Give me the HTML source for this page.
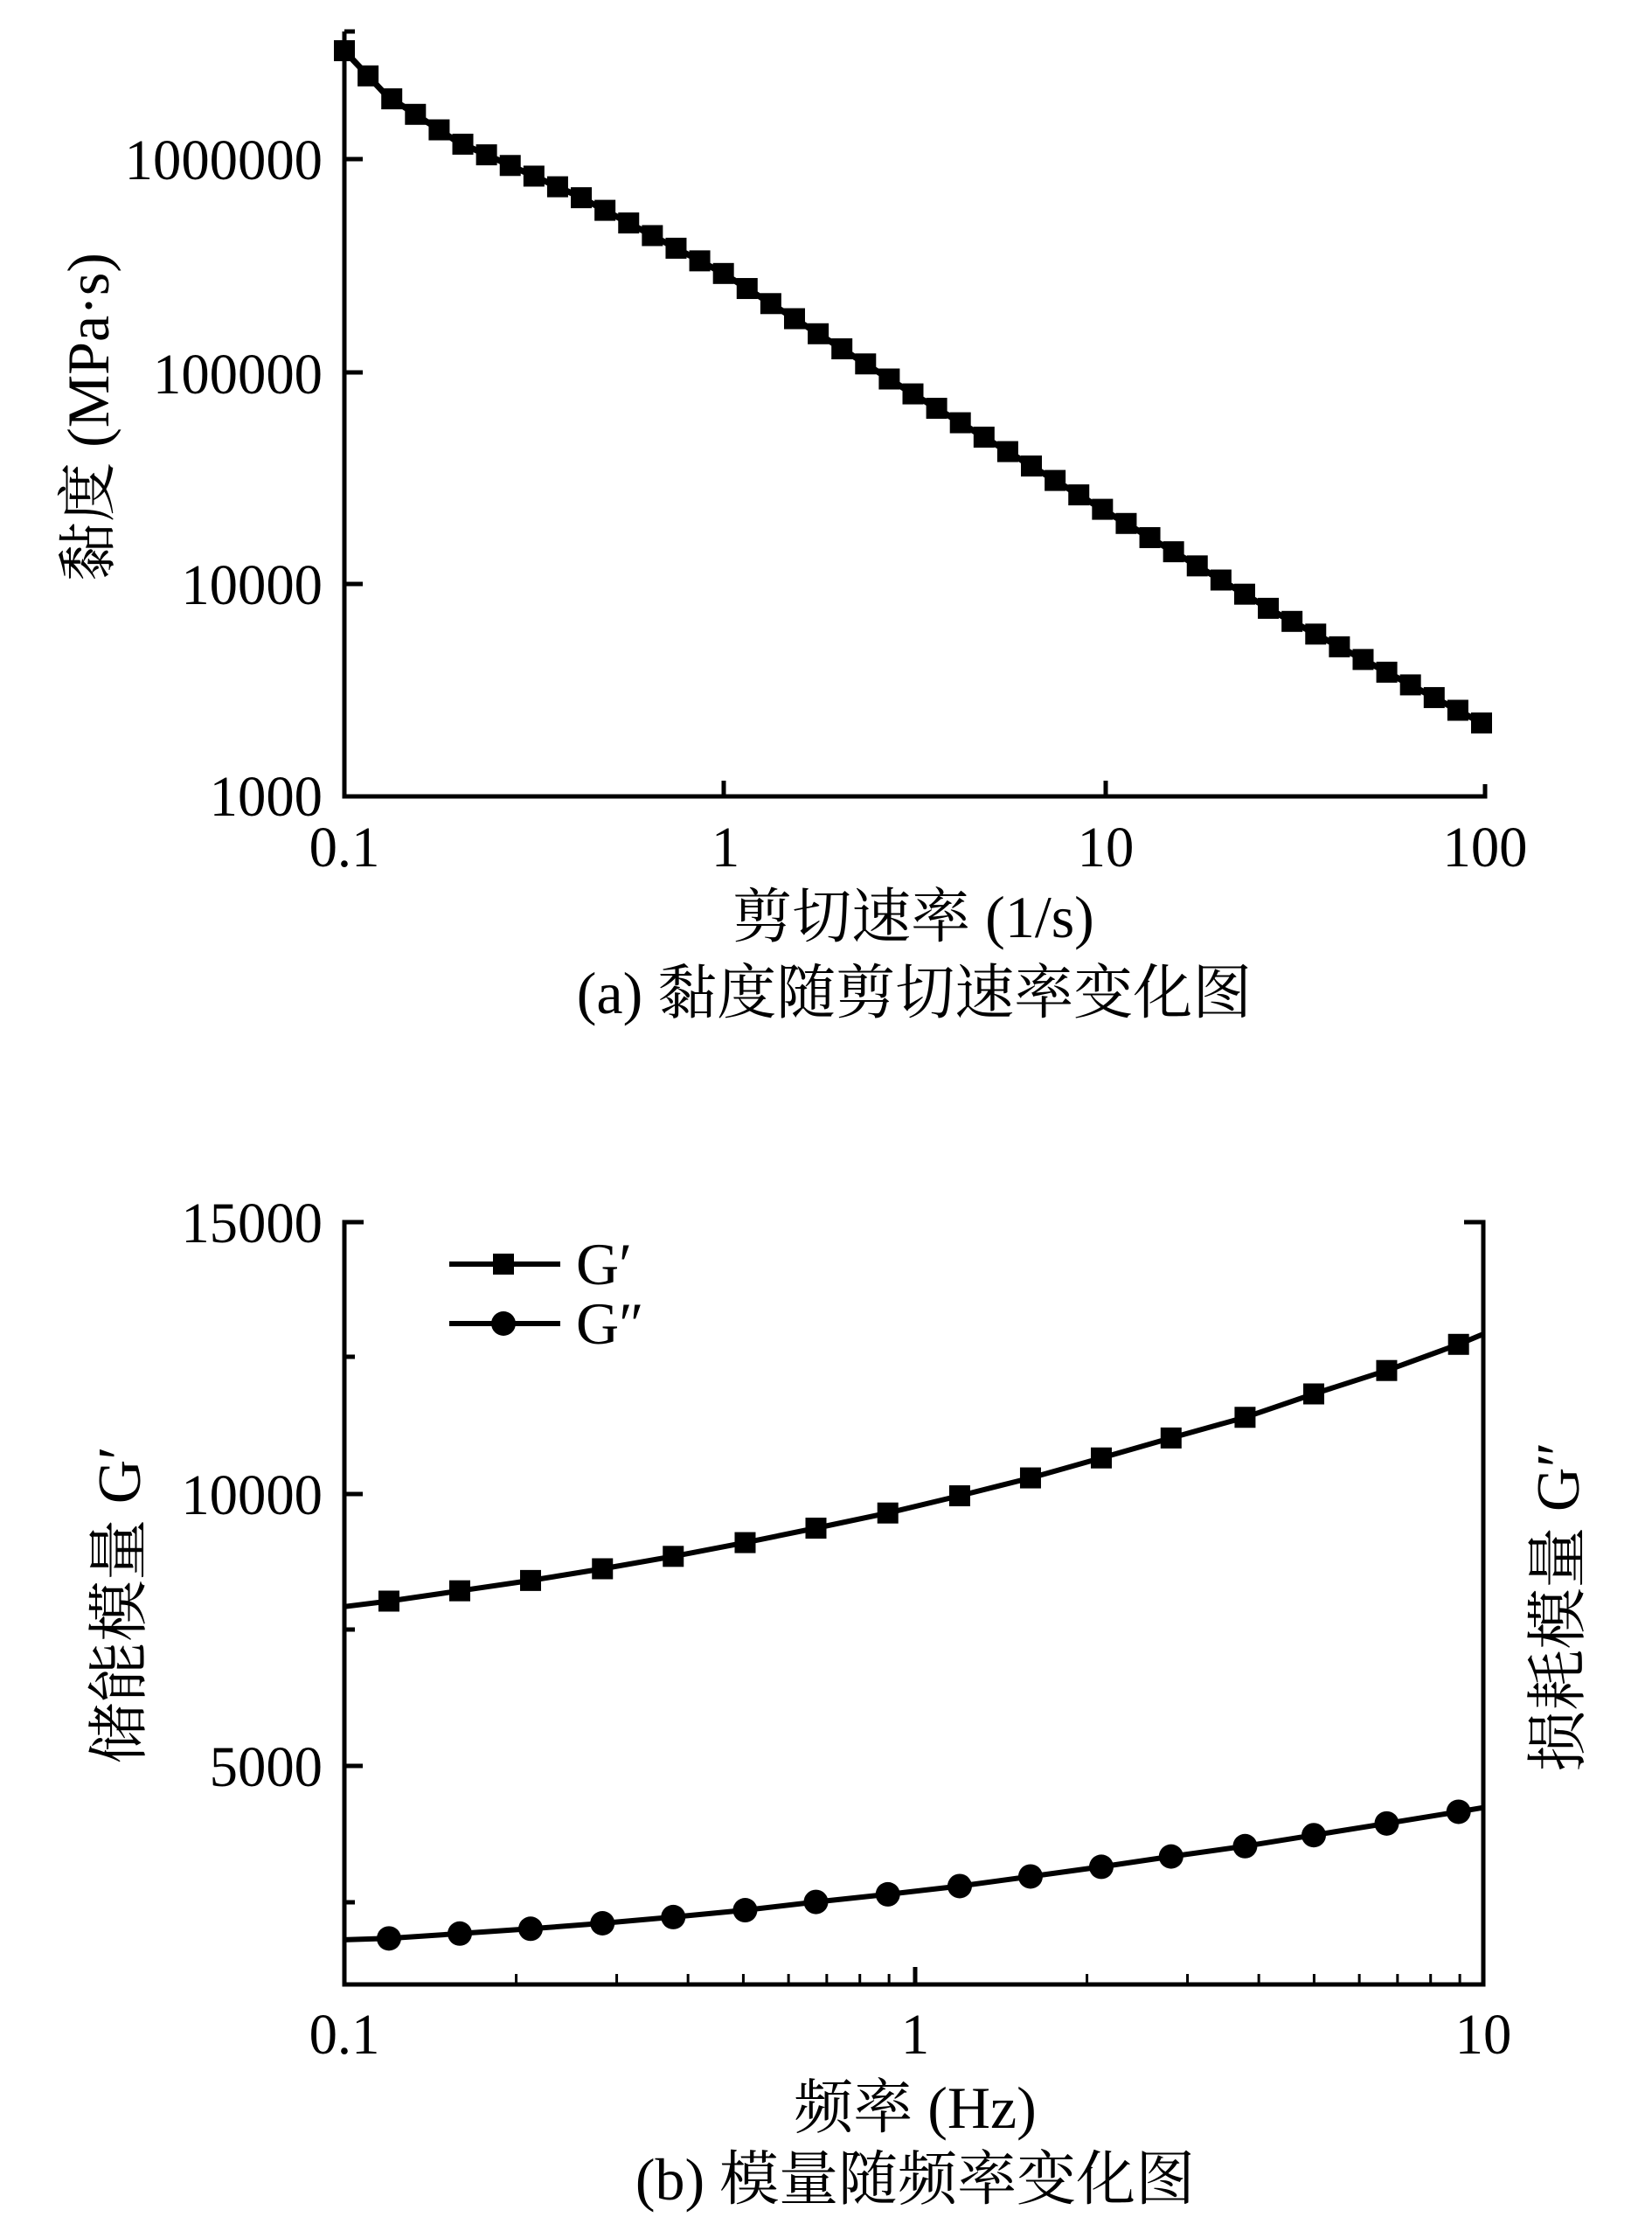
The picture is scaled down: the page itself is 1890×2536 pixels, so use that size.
<!DOCTYPE html>
<html><head><meta charset="utf-8"><style>
html,body{margin:0;padding:0;background:#fff;}
svg{display:block;}
text{font-family:"Liberation Serif","Noto Serif CJK SC","Noto Sans CJK SC",serif;fill:#000;}
</style></head><body>
<svg width="1890" height="2536" viewBox="0 0 1890 2536" xmlns="http://www.w3.org/2000/svg">
<!-- ===== Chart (a) ===== -->
<g stroke="#000" stroke-width="5" fill="none">
<polyline points="394,36 394,911 1699,911 1699,897"/>
<line x1="394" y1="182" x2="415" y2="182"/>
<line x1="394" y1="426" x2="415" y2="426"/>
<line x1="394" y1="668" x2="415" y2="668"/>
<line x1="828" y1="911" x2="828" y2="893"/>
<line x1="1265" y1="911" x2="1265" y2="893"/>
<line x1="394" y1="36" x2="406" y2="36"/>
</g>
<g id="sa"></g>
<g font-size="66">
<text transform="translate(369,205) scale(0.98,1)" text-anchor="end">1000000</text>
<text transform="translate(369,450) scale(0.98,1)" text-anchor="end">100000</text>
<text transform="translate(369,691) scale(0.98,1)" text-anchor="end">10000</text>
<text transform="translate(369,933) scale(0.98,1)" text-anchor="end">1000</text>
<text transform="translate(394,991) scale(0.98,1)" text-anchor="middle">0.1</text>
<text transform="translate(830,991) scale(0.98,1)" text-anchor="middle">1</text>
<text transform="translate(1265,991) scale(0.98,1)" text-anchor="middle">10</text>
<text transform="translate(1699,991) scale(0.98,1)" text-anchor="middle">100</text>
<text transform="translate(1045,1072) scale(1.0,1)" text-anchor="middle" font-size="68">剪切速率 (1/s)</text>
<text transform="translate(1046,1159) scale(1.0,1)" text-anchor="middle" font-size="68">(a) 黏度随剪切速率变化图</text>
<text transform="translate(124,477) rotate(-90)" text-anchor="middle" font-size="68">黏度 (MPa·s)</text>
</g>
<!-- ===== Chart (b) ===== -->
<g stroke="#000" stroke-width="5" fill="none">
<polyline points="416,1398 394,1398 394,2270 1697,2270 1697,1398 1675,1398"/>
<line x1="394" y1="1552" x2="406" y2="1552"/>
<line x1="394" y1="1709" x2="415" y2="1709"/>
<line x1="394" y1="1864" x2="406" y2="1864"/>
<line x1="394" y1="2020" x2="415" y2="2020"/>
<line x1="394" y1="2176" x2="406" y2="2176"/>
</g>
<g id="tb" stroke="#000" stroke-width="3"></g>
<g id="sb"></g>
<g font-size="66">
<text transform="translate(369,1421) scale(0.98,1)" text-anchor="end">15000</text>
<text transform="translate(369,1732) scale(0.98,1)" text-anchor="end">10000</text>
<text transform="translate(369,2043) scale(0.98,1)" text-anchor="end">5000</text>
<text transform="translate(394,2349) scale(0.98,1)" text-anchor="middle">0.1</text>
<text transform="translate(1047,2349) scale(0.98,1)" text-anchor="middle">1</text>
<text transform="translate(1697,2349) scale(0.98,1)" text-anchor="middle">10</text>
<text transform="translate(1047,2434)" text-anchor="middle" font-size="68">频率 (Hz)</text>
<text transform="translate(1047,2516)" text-anchor="middle" font-size="68">(b) 模量随频率变化图</text>
<text transform="translate(160,1836) rotate(-90)" text-anchor="middle" font-size="70">储能模量 G′</text>
<text transform="translate(1806,1838) rotate(-90)" text-anchor="middle" font-size="70">损耗模量 G″</text>
<text transform="translate(659,1469)" font-size="68">G′</text>
<text transform="translate(659,1537)" font-size="68">G″</text>
</g>
<g stroke="#000" stroke-width="6">
<line x1="514" y1="1446" x2="641" y2="1446"/>
<line x1="514" y1="1514" x2="641" y2="1514"/>
</g>
<rect x="564" y="1434" width="24" height="24" fill="#000"/>
<circle cx="576" cy="1514" r="14" fill="#000"/>
</svg>
<script>
(function(){
var NS="http://www.w3.org/2000/svg";
function el(p,n,a){var e=document.createElementNS(NS,n);for(var k in a)e.setAttribute(k,a[k]);p.appendChild(e);return e;}
function interp(pts,x){for(var i=0;i<pts.length-1;i++){if(x<=pts[i+1][0]){var t=(x-pts[i][0])/(pts[i+1][0]-pts[i][0]);return pts[i][1]+t*(pts[i+1][1]-pts[i][1]);}}return pts[pts.length-1][1];}
var A=[[394,58],[442,109],[523,162],[661,224],[828,313],[1037,446],[1262,583],[1458,700],[1695,827]];
var ga=document.getElementById("sa");
var s="";for(var x=394;x<=1695;x+=4){s+=x+","+interp(A,x).toFixed(1)+" ";}
el(ga,"polyline",{points:s,fill:"none",stroke:"#000","stroke-width":7});
var N=48;for(var i=0;i<=N;i++){var xx=394+(1695-394)*i/N;var yy=interp(A,xx);el(ga,"rect",{x:xx-12,y:yy-12,width:24,height:24,fill:"#000"});}
var tb=document.getElementById("tb");
for(var d=0;d<2;d++){for(var m=2;m<=9;m++){var tx=394+653*(d+Math.log10(m));el(tb,"line",{x1:tx,y1:2270,x2:tx,y2:2258});}}
el(tb,"line",{x1:1047,y1:2270,x2:1047,y2:2250,"stroke-width":5});
var sx=0.827,sy=1.27;
function cv(arr){return arr.map(function(p){return [p[0]/sx,p[1]/sy+1300];});}
var G1=cv([[325,683],[368,675],[435,660],[502,645],[570,628],[637,610],[705,590],[772,569],[840,547],[908,522],[975,496],[1042,467],[1108,438],[1178,408],[1243,374],[1312,340],[1380,302],[1407,287]]);
var G2=cv([[325,1167],[368,1165],[435,1158],[502,1151],[570,1143],[637,1134],[705,1124],[772,1112],[840,1101],[908,1089],[975,1075],[1042,1061],[1108,1046],[1178,1031],[1243,1015],[1312,998],[1380,981],[1407,975]]);
G1[0][0]=394;G2[0][0]=394;G1[G1.length-1][0]=1697;G2[G2.length-1][0]=1697;
var gb=document.getElementById("sb");
function pl(P){return P.map(function(p){return p[0].toFixed(1)+","+p[1].toFixed(1);}).join(" ");}
el(gb,"polyline",{points:pl(G1),fill:"none",stroke:"#000","stroke-width":6,"stroke-linejoin":"round"});
el(gb,"polyline",{points:pl(G2),fill:"none",stroke:"#000","stroke-width":6,"stroke-linejoin":"round"});
for(var j=1;j<G1.length-1;j++){el(gb,"rect",{x:G1[j][0]-12,y:G1[j][1]-12,width:24,height:24,fill:"#000"});el(gb,"circle",{cx:G2[j][0],cy:G2[j][1],r:14,fill:"#000"});}
})();
</script>
</body></html>
